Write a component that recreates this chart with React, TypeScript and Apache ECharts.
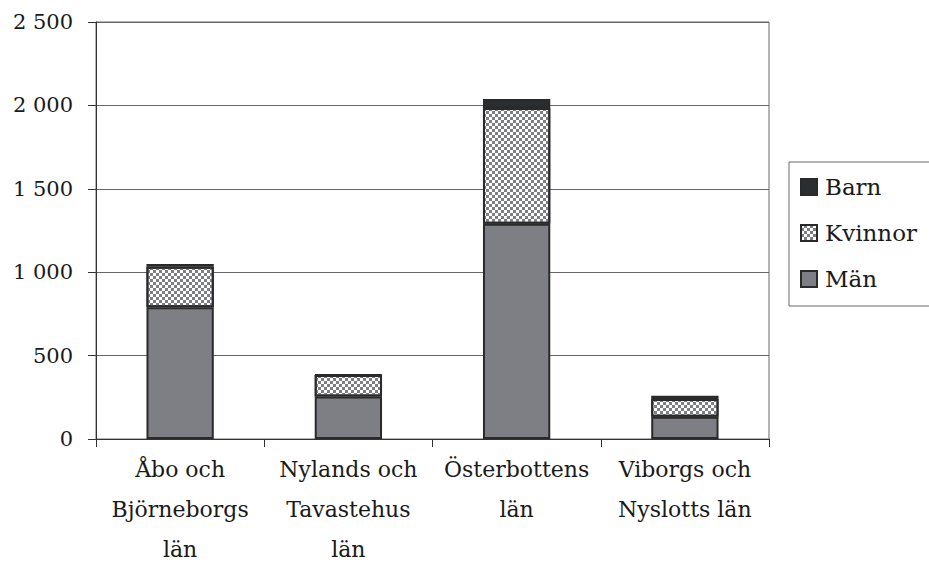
import React, { useEffect, useRef } from "react";
import * as echarts from "echarts";

const categories = [
  "Åbo och\nBjörneborgs\nlän",
  "Nylands och\nTavastehus\nlän",
  "Österbottens\nlän",
  "Viborgs och\nNyslotts län",
];
const man = [790, 255, 1290, 134];
const kvinnor = [242, 128, 695, 106];
const barn = [17, 2, 54, 20];
const yTicks = [0, 500, 1000, 1500, 2000, 2500];

const FONT = "DejaVu Serif";

function fmt(v: number): string {
  return String(v).replace(/\B(?=(\d{3})+(?!\d))/g, " ");
}

export default function App() {
  const ref = useRef<HTMLDivElement>(null);
  useEffect(() => {
    if (!ref.current) return;
    const chart = echarts.init(ref.current, undefined, { renderer: "svg" });
    const border = { borderColor: "#2a2a2a", borderWidth: 2 };
    chart.setOption({
      animation: false,
      backgroundColor: "#ffffff",
      textStyle: { fontFamily: FONT },
      grid: {
        left: 96,
        right: 160,
        top: 22,
        bottom: 136,
        show: true,
        borderColor: "#666",
        borderWidth: 1,
      },
      legend: {
        orient: "vertical",
        left: 789,
        top: 162,
        data: ["Barn", "Kvinnor", "Män"],
        icon: "rect",
        itemWidth: 16,
        itemHeight: 16,
        itemGap: 20,
        padding: [12, 40, 14, 11],
        borderColor: "#666",
        borderWidth: 1,
        textStyle: {
          fontFamily: FONT,
          fontSize: 23,
          color: "#1a1a1a",
          lineHeight: 26,
          padding: [0, 0, 0, 3],
        },
      },
      xAxis: {
        type: "category",
        data: categories,
        axisLine: { lineStyle: { color: "#333", width: 1 } },
        axisTick: { show: true, length: 8, lineStyle: { color: "#333" } },
        axisLabel: {
          fontFamily: FONT,
          fontSize: 22,
          color: "#1a1a1a",
          lineHeight: 40,
          margin: 10,
          interval: 0,
        },
      },
      yAxis: {
        type: "value",
        min: 0,
        max: 2500,
        interval: 500,
        axisLine: { show: true, lineStyle: { color: "#333", width: 1 } },
        axisTick: { show: true, length: 8, lineStyle: { color: "#333" } },
        splitLine: { show: true, lineStyle: { color: "#666", width: 1 } },
        axisLabel: {
          fontFamily: FONT,
          fontSize: 21,
          color: "#1a1a1a",
          margin: 23,
          formatter: (v: number) => (yTicks.includes(v) ? fmt(v) : ""),
        },
      },
      series: [
        {
          name: "Män",
          type: "bar",
          stack: "total",
          data: man,
          barWidth: "40%",
          itemStyle: { color: "#7e7f85", ...border },
        },
        {
          name: "Kvinnor",
          type: "bar",
          stack: "total",
          data: kvinnor,
          itemStyle: {
            color: "#ffffff",
            ...border,
            decal: {
              symbol: "rect",
              symbolSize: 1,
              color: "#7e7f85",
              dashArrayX: [
                [3, 3],
                [0, 3, 3, 0],
              ],
              dashArrayY: [3, 0],
              rotation: 0,
            },
          },
        },
        {
          name: "Barn",
          type: "bar",
          stack: "total",
          data: barn,
          itemStyle: { color: "#2b2e31", ...border },
        },
      ],
    });
    return () => chart.dispose();
  }, []);
  return (
    <div
      ref={ref}
      style={{ position: "absolute", left: 0, top: 0, width: 929, height: 575 }}
    />
  );
}
